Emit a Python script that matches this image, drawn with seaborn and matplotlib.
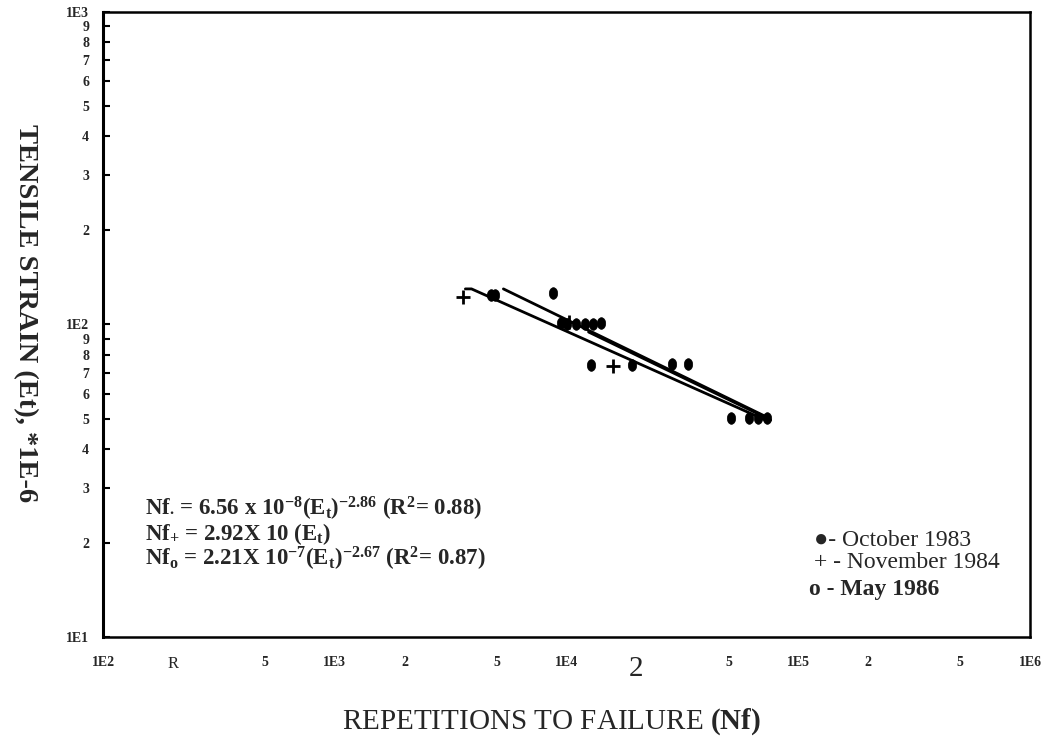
import numpy as np
import pandas as pd
import seaborn as sns
import matplotlib.pyplot as plt
from matplotlib.path import Path
from matplotlib.transforms import Affine2D

# data (repetitions, strain in 1E-6)
oct83_reps = [4700, 4930, 8700, 9420, 10000, 10940, 12700, 28400, 51100, 66800]
oct83_strain = [124, 124, 126, 101, 100, 100, 74.2, 74.8, 50.2, 50.2]

nov84_reps = [3590, 10200, 15800]
nov84_strain = [122.4, 101.8, 73.7]

may86_reps = [11970, 12950, 14020, 19100, 33300, 61100, 73100]
may86_strain = [100, 100.4, 101, 74.2, 74.8, 50.2, 50.2]

# regression lines as drawn
fit_oct_reps = [5340, 74600]
fit_oct_strain = [130, 50.2]
fit_nov_reps = [3660, 3890, 73800]
fit_nov_strain = [130, 130, 49.1]
fit_may_reps = [12450, 76000]
fit_may_strain = [94.6, 49.5]

x_ticks = [1e2, 2e2, 5e2, 1e3, 2e3, 5e3, 1e4, 2e4, 5e4, 1e5, 2e5, 5e5, 1e6]
x_labels = ["1E2", "R", "5", "1E3", "2", "5", "1E4", "2", "5", "1E5", "2", "5", "1E6"]
y_ticks = [10, 20, 30, 40, 50, 60, 70, 80, 90, 100, 200, 300, 400, 500, 600, 700, 800, 900, 1000]
y_labels = ["1E1", "2", "3", "4", "5", "6", "7", "8", "9", "1E2",
            "2", "3", "4", "5", "6", "7", "8", "9", "1E3"]

eq_lines = [
    r"Nf$_{\bullet}$ = 6.56 x 10$^{-8}$(E$_{t}$)$^{-2.86}$ (R$^{2}$= 0.88)",
    r"Nf$_{+}$ = 2.92X 10 (E$_{t}$)",
    r"Nf$_{o}$ = 2.21X 10$^{-7}$(E$_{t}$)$^{-2.67}$ (R$^{2}$= 0.87)",
]

sns.set_theme(style="white")
plt.rcParams["font.family"] = ["Liberation Serif", "DejaVu Serif"]
plt.rcParams["mathtext.fontset"] = "custom"
plt.rcParams["mathtext.rm"] = "Liberation Serif:bold"
plt.rcParams["mathtext.it"] = "Liberation Serif:bold"
plt.rcParams["mathtext.bf"] = "Liberation Serif:bold"

pts = pd.DataFrame({
    "reps": oct83_reps + nov84_reps + may86_reps,
    "strain": oct83_strain + nov84_strain + may86_strain,
    "series": ["Oct 1983"] * len(oct83_reps) + ["Nov 1984"] * len(nov84_reps)
              + ["May 1986"] * len(may86_reps),
})
fits = pd.DataFrame({
    "reps": fit_oct_reps + fit_nov_reps + fit_may_reps,
    "strain": fit_oct_strain + fit_nov_strain + fit_may_strain,
    "fit": ["a"] * len(fit_oct_reps) + ["b"] * len(fit_nov_reps) + ["c"] * len(fit_may_reps),
})

# blotchy ink dots look taller than wide
blob = Path.unit_circle().transformed(Affine2D().scale(0.72, 1.0))

fig = plt.figure(figsize=(10.44, 7.38), dpi=100)
ax = fig.add_axes([0.0987, 0.1369, 0.8879, 0.8468])

for name, grp in fits.groupby("fit"):
    sns.lineplot(data=grp, x="reps", y="strain", sort=False, estimator=None,
                 color="black", linewidth=2.0, ax=ax)

dots = pts[pts["series"] != "Nov 1984"]
sns.scatterplot(data=dots, x="reps", y="strain", marker=blob, s=70,
                color="black", edgecolor="black", linewidth=0.5, legend=False, ax=ax)
plus = pts[pts["series"] == "Nov 1984"]
sns.scatterplot(data=plus, x="reps", y="strain", marker="+", s=110,
                color="black", linewidth=2.0, legend=False, ax=ax)

ax.set_xscale("log")
ax.set_yscale("log")
ax.set_xlim(1e2, 1e6)
ax.set_ylim(10, 1000)

ax.set_xticks(x_ticks)
ax.set_xticklabels(x_labels)
ax.set_yticks(y_ticks)
ax.set_yticklabels(y_labels)
ax.minorticks_off()
ax.set_xticks([1e3, 1e4, 1e5, 1e6], minor=True)
ax.tick_params(axis="x", which="major", length=0, pad=14, labelsize=10)
ax.tick_params(axis="x", which="minor", direction="in", length=8, width=1.5,
               color="black", labelbottom=False)
for i, lab in enumerate(ax.get_xticklabels()):
    if i == 1:
        lab.set_fontsize(12)
    elif i == 7:
        lab.set_fontsize(21)
    else:
        lab.set_fontweight("bold")

ax.tick_params(axis="y", which="major", direction="in", length=5, width=1.5,
               color="black", pad=10, labelsize=10, left=True)
for lab in ax.get_yticklabels():
    lab.set_fontweight("bold")

for side, sp in ax.spines.items():
    sp.set_color("black")
    sp.set_linewidth(2.2 if side == "left" else 1.8)

ax.set_xlabel("")
ax.set_ylabel("")

for i, line in enumerate(eq_lines):
    fig.text(145 / 1044, 1 - (509 + i * 25) / 738, line, fontsize=16.5,
             fontweight="bold", va="center", ha="left")

fig.text(814 / 1044, 1 - 540 / 738, "\u25cf- October 1983", fontsize=17, va="center")
fig.text(814 / 1044, 1 - 563 / 738, "+ - November 1984", fontsize=17, va="center")
fig.text(809 / 1044, 1 - 589 / 738, "o - May 1986", fontsize=17, va="center",
         fontweight="bold")

fig.text(0.024, 0.576, "TENSILE STRAIN (Et), *1E-6", rotation=270, fontsize=20.5,
         fontweight="bold", ha="center", va="center")
fig.text(342 / 1044, 1 - 722 / 738, r"REPETITIONS TO FAILURE $\mathbf{(Nf)}$",
         fontsize=21, ha="left", va="center")

fig.savefig("out.png", dpi=100)
